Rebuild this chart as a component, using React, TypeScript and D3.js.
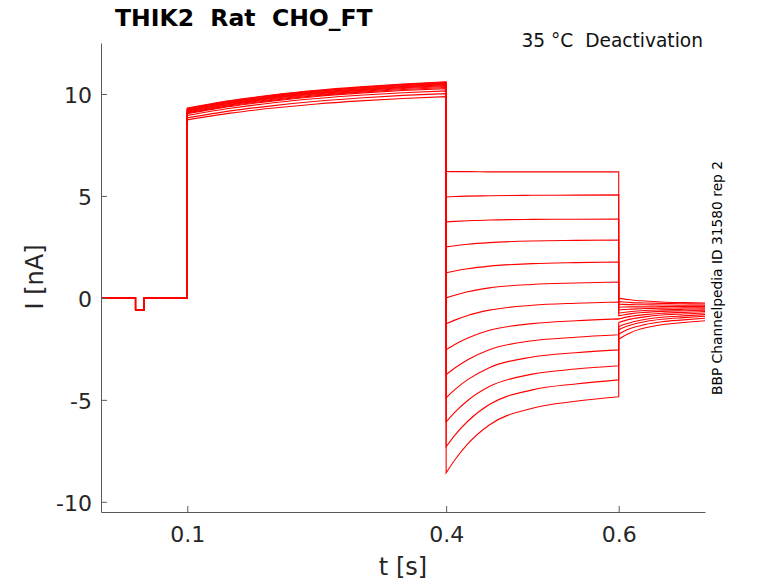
import { useEffect, useRef } from "react";
import * as d3 from "d3";

// holding period with the short prepulse
const holdTimes = [0, 0.04, 0.04, 0.05, 0.05, 0.1];
const holdValues = [0, 0, -0.6, -0.6, 0, 0];

// activating step, one row per sweep
const stepTimes = [0.1, 0.15, 0.2, 0.25, 0.3, 0.35, 0.4];
const stepValues: number[][] = [
  [9.31, 9.68, 9.96, 10.18, 10.35, 10.49, 10.6],
  [9.28, 9.65, 9.93, 10.15, 10.32, 10.46, 10.57],
  [9.25, 9.62, 9.9, 10.12, 10.29, 10.43, 10.54],
  [9.22, 9.59, 9.87, 10.09, 10.26, 10.4, 10.51],
  [9.19, 9.56, 9.84, 10.06, 10.23, 10.37, 10.48],
  [9.16, 9.53, 9.81, 10.03, 10.2, 10.34, 10.45],
  [9.13, 9.5, 9.78, 10.0, 10.17, 10.31, 10.41],
  [9.1, 9.47, 9.74, 9.96, 10.13, 10.27, 10.37],
  [9.07, 9.43, 9.7, 9.92, 10.09, 10.22, 10.32],
  [9.03, 9.39, 9.66, 9.88, 10.04, 10.17, 10.26],
  [8.95, 9.3, 9.57, 9.78, 9.94, 10.06, 10.15],
  [8.83, 9.17, 9.43, 9.64, 9.8, 9.93, 10.02],
  [8.73, 9.06, 9.31, 9.51, 9.66, 9.78, 9.87],
];

// deactivation test pulses
const testTimes = [0.4, 0.41, 0.425, 0.45, 0.5, 0.55, 0.6];
const testValues: number[][] = [
  [6.2, 6.19, 6.19, 6.18, 6.18, 6.18, 6.18],
  [4.95, 4.97, 4.99, 5.01, 5.03, 5.04, 5.05],
  [3.73, 3.75, 3.78, 3.82, 3.85, 3.86, 3.87],
  [2.5, 2.56, 2.63, 2.71, 2.79, 2.82, 2.84],
  [1.23, 1.32, 1.43, 1.56, 1.68, 1.73, 1.76],
  [0, 0.13, 0.3, 0.49, 0.66, 0.73, 0.78],
  [-1.27, -1.09, -0.86, -0.6, -0.36, -0.26, -0.2],
  [-2.55, -2.29, -1.97, -1.59, -1.26, -1.12, -1.03],
  [-3.77, -3.44, -3.03, -2.54, -2.1, -1.93, -1.81],
  [-4.9, -4.5, -4.01, -3.42, -2.9, -2.69, -2.55],
  [-6.08, -5.61, -5.03, -4.35, -3.74, -3.49, -3.33],
  [-7.3, -6.74, -6.05, -5.23, -4.51, -4.22, -4.02],
  [-8.58, -7.95, -7.16, -6.23, -5.41, -5.07, -4.85],
];

// tail currents back at holding potential
const tailTimes = [0.6, 0.605, 0.615, 0.63, 0.65, 0.675, 0.7];
const tailValues: number[][] = [
  [-0.01, -0.05, -0.1, -0.15, -0.2, -0.23, -0.25],
  [-0.18, -0.2, -0.23, -0.25, -0.27, -0.29, -0.3],
  [-0.31, -0.32, -0.33, -0.34, -0.35, -0.36, -0.36],
  [-0.46, -0.45, -0.44, -0.44, -0.43, -0.42, -0.42],
  [-0.59, -0.57, -0.55, -0.52, -0.5, -0.49, -0.48],
  [-0.75, -0.72, -0.67, -0.62, -0.59, -0.56, -0.54],
  [-0.88, -0.84, -0.77, -0.71, -0.66, -0.63, -0.6],
  [-1.04, -0.98, -0.9, -0.82, -0.75, -0.71, -0.67],
  [-1.21, -1.14, -1.03, -0.93, -0.84, -0.79, -0.74],
  [-1.41, -1.32, -1.19, -1.06, -0.95, -0.88, -0.82],
  [-1.57, -1.47, -1.32, -1.17, -1.05, -0.97, -0.9],
  [-1.78, -1.66, -1.48, -1.31, -1.17, -1.08, -1.0],
  [-2.03, -1.89, -1.68, -1.48, -1.32, -1.21, -1.12],
];

const xTicks = [0.1, 0.4, 0.6];
const yTicks = [-10, -5, 0, 5, 10];

const FONT = "DejaVu Sans, sans-serif";

export default function App() {
  const ref = useRef<SVGSVGElement>(null);

  useEffect(() => {
    if (!ref.current) return;
    const svg = d3.select(ref.current);
    svg.selectAll("*").remove();

    const width = 778;
    const height = 583;
    const margin = { top: 43, right: 73, bottom: 71, left: 101 };

    const x = d3
      .scaleLinear()
      .domain([0, 0.7])
      .range([margin.left, width - margin.right]);
    const y = d3
      .scaleLinear()
      .domain([-10.5, 12.5])
      .range([height - margin.bottom, margin.top]);

    const seg = (ts: number[], vs: number[], curve: d3.CurveFactory) =>
      d3
        .line<number>()
        .x((_, i) => x(ts[i]))
        .y(d => y(d))
        .curve(curve)(vs) ?? "";

    const traces = stepValues.map((_, k) =>
      [
        seg(holdTimes, holdValues, d3.curveLinear),
        seg(stepTimes, stepValues[k], d3.curveMonotoneX).replace(/^M/, "L"),
        seg(testTimes, testValues[k], d3.curveMonotoneX).replace(/^M/, "L"),
        seg(tailTimes, tailValues[k], d3.curveMonotoneX).replace(/^M/, "L"),
      ].join("")
    );

    svg
      .append("g")
      .selectAll("path")
      .data(traces)
      .join("path")
      .attr("d", d => d)
      .attr("fill", "none")
      .attr("stroke", "#ff0000")
      .attr("stroke-width", 1.1);

    // axes, MATLAB style: ticks pointing inward, no box
    const gx = svg
      .append("g")
      .attr("transform", `translate(0,${height - margin.bottom})`)
      .call(
        d3
          .axisBottom(x)
          .tickValues(xTicks)
          .tickSizeInner(-6)
          .tickSizeOuter(0)
          .tickPadding(14)
          .tickFormat(d => String(d))
      );
    const gy = svg
      .append("g")
      .attr("transform", `translate(${margin.left},0)`)
      .call(
        d3
          .axisLeft(y)
          .tickValues(yTicks)
          .tickSizeInner(-6)
          .tickSizeOuter(0)
          .tickPadding(9)
          .tickFormat(d => String(d))
      );
    [gx, gy].forEach(g => {
      g.attr("font-family", FONT).attr("font-size", 22);
      g.select(".domain").attr("stroke", "#5a5a5a");
      g.selectAll(".tick line").attr("stroke", "#5a5a5a");
      g.selectAll(".tick text").attr("fill", "#262626");
    });
    gy.selectAll(".tick text").attr("dy", "0.38em");

    // texts
    svg
      .append("text")
      .attr("x", 115)
      .attr("y", 26)
      .attr("font-family", FONT)
      .attr("font-weight", "bold")
      .attr("font-size", 23.5)
      .attr("fill", "#000")
      .attr("xml:space", "preserve")
      .text("THIK2  Rat  CHO_FT");

    svg
      .append("text")
      .attr("x", 703)
      .attr("y", 47)
      .attr("text-anchor", "end")
      .attr("font-family", FONT)
      .attr("font-size", 18.6)
      .attr("fill", "#111")
      .attr("xml:space", "preserve")
      .text("35 °C  Deactivation");

    svg
      .append("text")
      .attr("transform", "translate(722,278) rotate(-90)")
      .attr("text-anchor", "middle")
      .attr("font-family", FONT)
      .attr("font-size", 13.8)
      .attr("fill", "#000")
      .text("BBP Channelpedia ID 31580 rep 2");

    svg
      .append("text")
      .attr("transform", "translate(43,277) rotate(-90)")
      .attr("text-anchor", "middle")
      .attr("font-family", FONT)
      .attr("font-size", 24)
      .attr("fill", "#262626")
      .text("I [nA]");

    svg
      .append("text")
      .attr("x", x(0.35))
      .attr("y", 575)
      .attr("text-anchor", "middle")
      .attr("font-family", FONT)
      .attr("font-size", 24)
      .attr("fill", "#262626")
      .text("t [s]");
  }, []);

  return (
    <svg
      ref={ref}
      width={778}
      height={583}
      viewBox="0 0 778 583"
      style={{ position: "absolute", left: 0, top: 0, background: "#fff" }}
    />
  );
}
